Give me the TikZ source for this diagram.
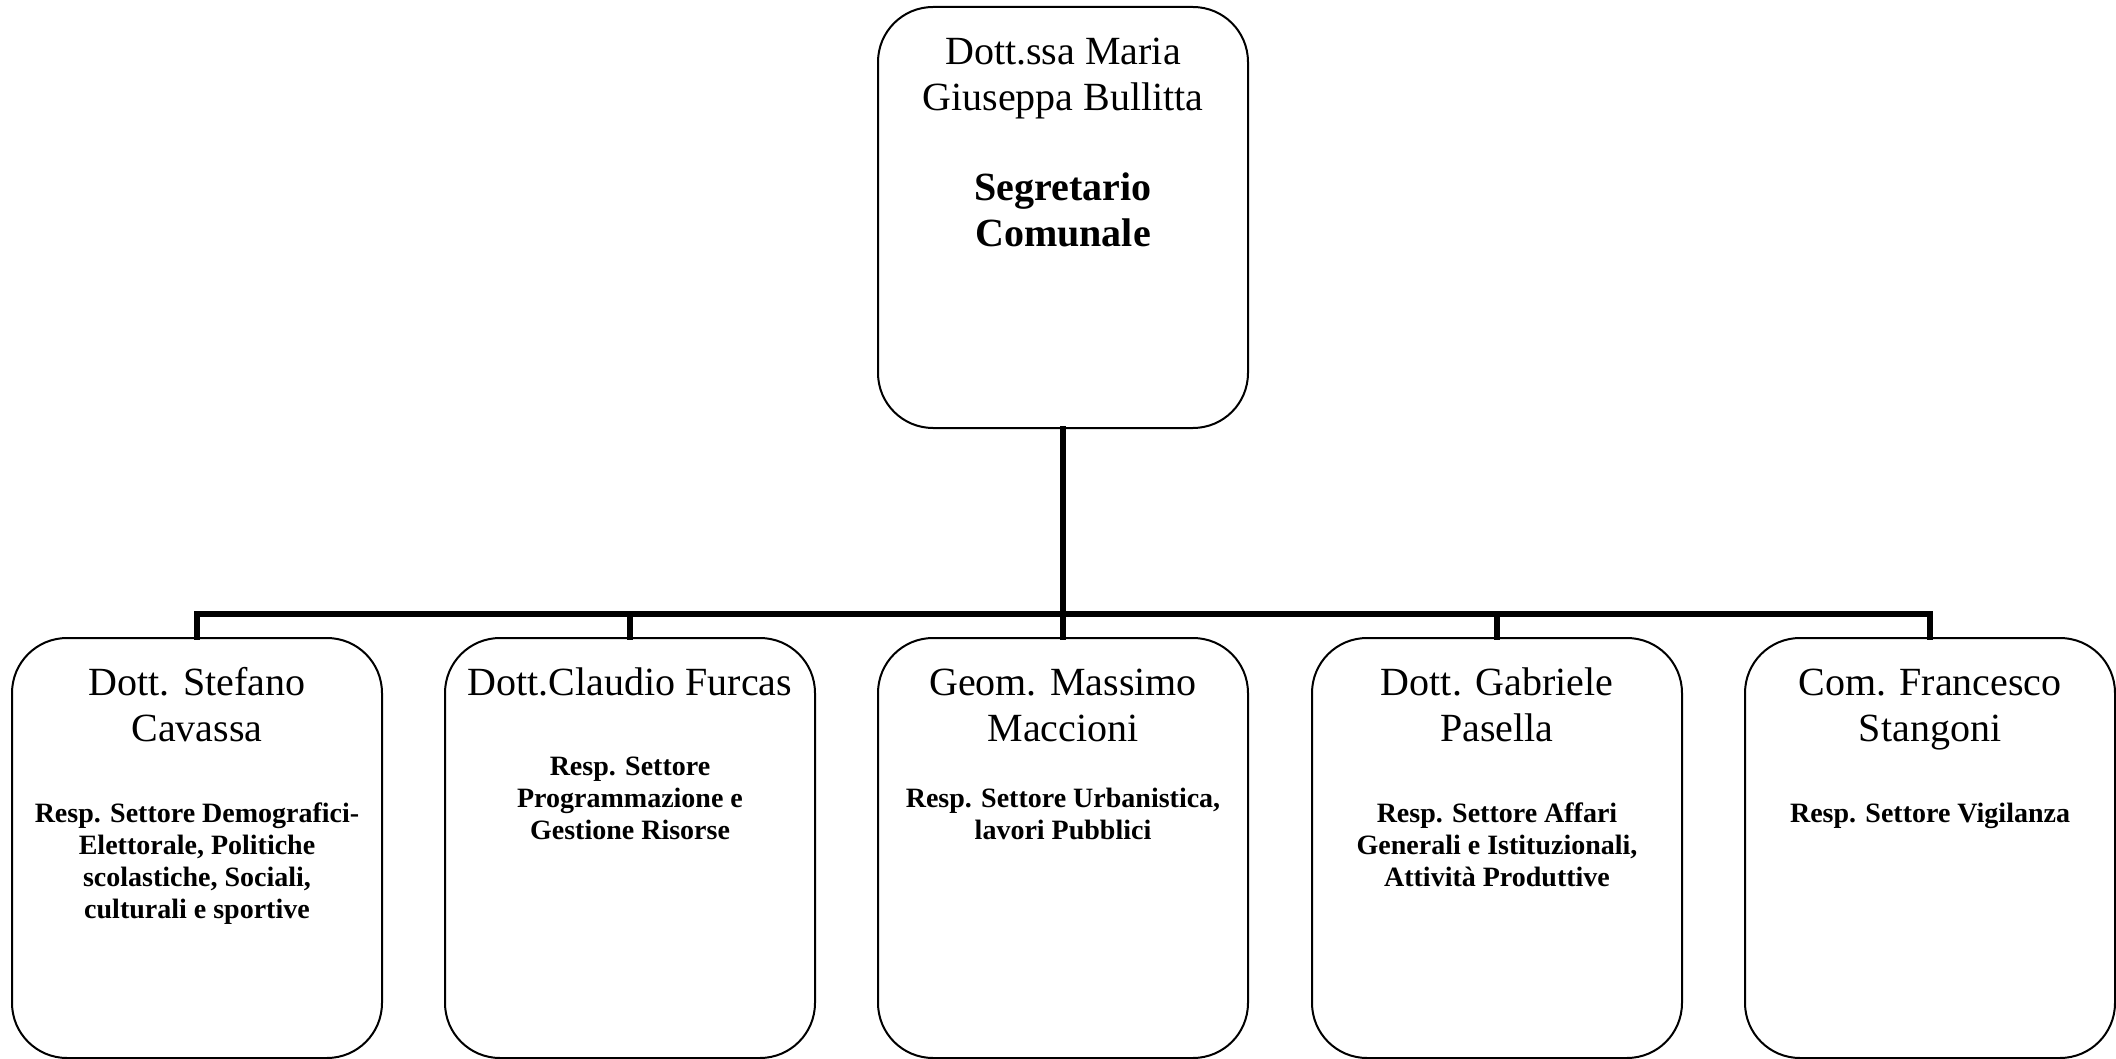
\documentclass[tikz,border=0pt]{standalone}
\usepackage{fontspec}
\setmainfont{Liberation Serif}
\begin{document}
\begin{tikzpicture}[x=0.5pt,y=-0.5pt,
  box/.style={draw=black,line width=1pt,rounded corners=27.5pt,rectangle,
    minimum width=185pt,minimum height=210pt,inner sep=0pt,fill=white},
  conn/.style={draw=black,line width=3pt,line join=miter,line cap=rect},
  nm/.style={anchor=base,inner sep=0pt,font=\fontsize{20}{23}\selectfont},
  nmb/.style={anchor=base,inner sep=0pt,font=\fontsize{20}{23}\selectfont\bfseries},
  rl/.style={anchor=base,inner sep=0pt,font=\fontsize{14}{16}\selectfont\bfseries}]
\useasboundingbox[fill=white] (0,0) rectangle (2116,1059);
% boxes
\node[box,minimum height=210.5pt] (top) at (1063,217.5) {};
\node[box] (b1) at (197,848) {};
\node[box] (b2) at (630,848) {};
\node[box] (b3) at (1063,848) {};
\node[box] (b4) at (1497,848) {};
\node[box] (b5) at (1930,848) {};
% connectors
\coordinate (j) at (1063,614);
\draw[conn] (top.south) -- (j);
\draw[conn] (b1.north) |- (j);
\draw[conn] (b2.north) |- (j);
\draw[conn] (b3.north) -- (j);
\draw[conn] (b4.north) |- (j);
\draw[conn] (b5.north) |- (j);
% top text
\node[nm] (t1) at (1063,65) {Dott.ssa Maria};
\node[nm] (t2) at (1063,111) {Giuseppa Bullitta};
\node[nmb] (t3) at (1063,201) {Segretario};
\node[nmb] (t4) at (1063,247) {Comunale};
% box 1
\node[nm] (a1) at (197,695) {Dott. Stefano};
\node[nm] (a2) at (197,741) {Cavassa};
\node[rl] (a3) at (197,822) {Resp. Settore Demografici-};
\node[rl] (a4) at (197,854) {Elettorale, Politiche};
\node[rl] (a5) at (197,886) {scolastiche, Sociali,};
\node[rl] (a6) at (197,918) {culturali e sportive};
% box 2
\node[nm] (c1) at (630,695) {Dott.Claudio Furcas};
\node[rl] (c2) at (630,775) {Resp. Settore};
\node[rl] (c3) at (630,807) {Programmazione e};
\node[rl] (c4) at (630,839) {Gestione Risorse};
% box 3
\node[nm] (d1) at (1063,695) {Geom. Massimo};
\node[nm] (d2) at (1063,741) {Maccioni};
\node[rl] (d3) at (1063,807) {Resp. Settore Urbanistica,};
\node[rl] (d4) at (1063,839) {lavori Pubblici};
% box 4
\node[nm] (e1) at (1497,695) {Dott. Gabriele};
\node[nm] (e2) at (1497,741) {Pasella};
\node[rl] (e3) at (1497,822) {Resp. Settore Affari};
\node[rl] (e4) at (1497,854) {Generali e Istituzionali,};
\node[rl] (e5) at (1497,886) {Attività Produttive};
% box 5
\node[nm] (f1) at (1930,695) {Com. Francesco};
\node[nm] (f2) at (1930,741) {Stangoni};
\node[rl] (f3) at (1930,822) {Resp. Settore Vigilanza};
\end{tikzpicture}
\end{document}
